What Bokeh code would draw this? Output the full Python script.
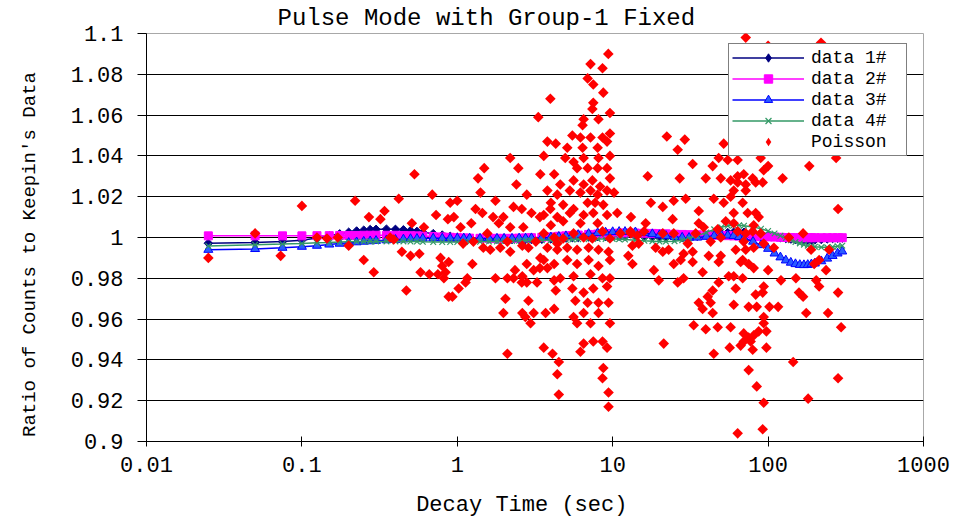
import numpy as np
from bokeh.plotting import figure
from bokeh.models import FixedTicker, CustomJSTickFormatter, Legend, LegendItem
from bokeh.embed import file_html
from bokeh.resources import INLINE

FONT = "Liberation Mono"

# Decay times (sec) at which the four calculated series are sampled
decay_time = [
    0.025, 0.05, 0.075, 0.1, 0.125, 0.15, 0.175, 0.2, 0.225, 0.25, 0.275,
    0.3, 0.35, 0.4, 0.45, 0.5, 0.55, 0.6,
    0.7, 0.8, 0.9, 1.0, 1.1, 1.2, 1.4, 1.6, 1.8, 2.0,
    2.25, 2.5, 2.75, 3.0, 3.5, 4.0, 4.5, 5.0, 5.5, 6.0,
    7, 8, 9, 10, 11, 12, 14, 16, 18, 20,
    22, 25, 28, 31, 35, 40, 45, 50, 55, 60,
    65, 70, 80, 90, 100, 110, 120, 130, 140, 150,
    160, 170, 180, 190, 200, 220, 240, 260, 280, 300,
]

data1 = [
    0.9972, 0.9976, 0.9980, 0.9987, 0.9997, 1.0008, 1.0018, 1.0026, 1.0032, 1.0036, 1.0039,
    1.0040, 1.0041, 1.0040, 1.0038, 1.0034, 1.0030, 1.0026,
    1.0019, 1.0012, 1.0006, 1.0002, 0.9999, 0.9997, 0.9994, 0.9992, 0.9991, 0.9990,
    0.9990, 0.9990, 0.9990, 0.9990, 0.9991, 0.9993, 0.9995, 0.9997, 0.9999, 1.0000,
    1.0002, 1.0004, 1.0005, 1.0006, 1.0006, 1.0006, 1.0005, 1.0003, 1.0001, 1.0000,
    0.9999, 0.9999, 1.0000, 1.0002, 1.0006, 1.0010, 1.0015, 1.0020, 1.0024, 1.0026,
    1.0027, 1.0026, 1.0022, 1.0016, 1.0010, 1.0004, 0.9999, 0.9995, 0.9992, 0.9990,
    0.9988, 0.9987, 0.9987, 0.9987, 0.9988, 0.9990, 0.9993, 0.9995, 0.9996, 0.9997,
]

data2 = [
    1.0008, 1.0008, 1.0008, 1.0008, 1.0009, 1.0009, 1.0010, 1.0010, 1.0010, 1.0011, 1.0011,
    1.0011, 1.0011, 1.0011, 1.0010, 1.0009, 1.0008, 1.0007,
    1.0005, 1.0003, 1.0001, 0.9999, 0.9998, 0.9997, 0.9996, 0.9996, 0.9996, 0.9996,
    0.9996, 0.9997, 0.9998, 0.9999, 1.0001, 1.0003, 1.0006, 1.0008, 1.0010, 1.0012,
    1.0015, 1.0017, 1.0019, 1.0020, 1.0021, 1.0022, 1.0022, 1.0021, 1.0020, 1.0019,
    1.0018, 1.0016, 1.0015, 1.0014, 1.0013, 1.0012, 1.0011, 1.0010, 1.0009, 1.0008,
    1.0007, 1.0006, 1.0005, 1.0004, 1.0003, 1.0002, 1.0001, 1.0000, 1.0000, 0.9999,
    0.9999, 0.9999, 0.9999, 0.9999, 0.9999, 0.9999, 0.9999, 0.9999, 0.9999, 0.9999,
]

data3 = [
    0.9940, 0.9944, 0.9950, 0.9955, 0.9960, 0.9966, 0.9970, 0.9974, 0.9977, 0.9980, 0.9982,
    0.9984, 0.9987, 0.9989, 0.9991, 0.9993, 0.9994, 0.9995,
    0.9996, 0.9996, 0.9996, 0.9996, 0.9996, 0.9996, 0.9995, 0.9995, 0.9995, 0.9995,
    0.9995, 0.9996, 0.9996, 0.9997, 0.9999, 1.0001, 1.0004, 1.0007, 1.0010, 1.0013,
    1.0018, 1.0022, 1.0025, 1.0027, 1.0028, 1.0028, 1.0026, 1.0022, 1.0017, 1.0012,
    1.0008, 1.0003, 1.0000, 0.9999, 1.0000, 1.0004, 1.0008, 1.0010, 1.0010, 1.0008,
    1.0003, 0.9996, 0.9980, 0.9963, 0.9945, 0.9922, 0.9903, 0.9888, 0.9877, 0.9870,
    0.9866, 0.9865, 0.9866, 0.9869, 0.9873, 0.9884, 0.9897, 0.9910, 0.9922, 0.9932,
]

data4 = [
    0.9958, 0.9965, 0.9968, 0.9971, 0.9974, 0.9976, 0.9978, 0.9979, 0.9980, 0.9980, 0.9981,
    0.9981, 0.9981, 0.9981, 0.9981, 0.9980, 0.9980, 0.9979,
    0.9978, 0.9978, 0.9978, 0.9978, 0.9978, 0.9978, 0.9979, 0.9980, 0.9981, 0.9982,
    0.9983, 0.9984, 0.9985, 0.9985, 0.9986, 0.9987, 0.9988, 0.9989, 0.9990, 0.9991,
    0.9992, 0.9993, 0.9993, 0.9993, 0.9992, 0.9990, 0.9987, 0.9984, 0.9982, 0.9980,
    0.9980, 0.9982, 0.9987, 0.9995, 1.0008, 1.0025, 1.0040, 1.0050, 1.0057, 1.0060,
    1.0060, 1.0058, 1.0052, 1.0043, 1.0032, 1.0020, 1.0008, 0.9997, 0.9987, 0.9978,
    0.9971, 0.9965, 0.9960, 0.9957, 0.9955, 0.9952, 0.9952, 0.9954, 0.9957, 0.9960,
]

# Poisson-sampled counts ratio: (decay time in sec, ratio)
poisson_points = [
    # below 1 s
    (0.025, 0.990), (0.05, 1.002), (0.073, 0.991), (0.1, 1.0155), (0.125, 1.000),
    (0.145, 0.9995), (0.17, 1.000), (0.2, 0.996), (0.22, 1.018), (0.25, 0.989),
    (0.27, 1.010), (0.29, 0.983), (0.32, 1.009), (0.34, 1.013), (0.37, 1.000),
    (0.39, 0.999), (0.42, 1.019), (0.44, 0.993), (0.47, 0.974), (0.50, 0.991),
    (0.51, 1.007), (0.53, 1.031), (0.57, 0.992), (0.58, 0.983), (0.61, 1.005),
    (0.66, 0.982), (0.69, 1.021), (0.73, 1.011), (0.75, 0.982), (0.78, 0.990),
    (0.80, 0.986), (0.82, 0.980), (0.84, 0.983), (0.87, 1.009), (0.88, 0.988),
    (0.88, 0.971), (0.90, 1.017), (0.93, 0.971), (0.95, 1.010),
    # 1 s to 4.5 s
    (1.0, 1.018), (1.02, 0.975), (1.05, 1.005), (1.09, 0.997), (1.13, 0.978),
    (1.16, 0.980), (1.23, 1.007), (1.25, 0.987), (1.27, 0.998), (1.31, 1.014),
    (1.36, 1.029), (1.41, 1.022), (1.45, 1.012), (1.47, 0.995), (1.49, 1.034),
    (1.56, 1.002), (1.63, 0.994), (1.7, 1.010), (1.76, 1.018), (1.76, 0.980),
    (1.85, 1.007), (1.89, 0.995), (1.98, 1.010), (1.98, 0.963), (2.04, 0.970),
    (2.1, 0.998), (2.1, 0.980), (2.1, 0.943), (2.19, 1.039), (2.19, 1.005),
    (2.19, 0.993), (2.3, 1.015), (2.3, 0.980), (2.35, 0.984), (2.4, 1.026),
    (2.47, 1.034), (2.6, 1.014), (2.6, 0.978), (2.62, 0.996), (2.62, 0.981),
    (2.62, 0.963), (2.66, 1.005), (2.74, 0.961), (2.8, 1.021), (2.8, 0.987),
    (2.8, 0.978), (2.87, 0.995), (2.87, 0.969), (2.96, 0.958), (3.0, 1.012),
    (3.1, 0.984), (3.1, 0.963), (3.2, 0.998), (3.26, 0.978), (3.32, 1.059),
    (3.4, 1.010), (3.42, 1.031), (3.42, 0.990), (3.4, 0.985), (3.6, 1.040),
    (3.6, 0.946), (3.7, 0.963), (3.8, 1.047), (3.8, 0.995), (3.8, 0.985),
    (3.97, 1.068), (3.97, 1.014), (4.1, 0.943), (4.2, 1.031), (4.2, 0.979),
    (4.2, 0.965), (4.3, 1.046), (4.3, 0.974), (4.4, 1.010), (4.4, 0.997),
    (4.4, 0.933), (4.5, 0.939), (4.5, 0.923),
    # 3.5 s to 15 s
    (9.37, 1.090), (7.2, 1.085), (8.6, 1.083), (6.9, 1.078), (7.5, 1.075),
    (8.7, 1.071), (7.5, 1.066), (7.4, 1.063), (9.6, 1.061), (6.5, 1.058),
    (8.1, 1.058), (6.4, 1.055), (5.5, 1.050), (6.2, 1.049), (7.2, 1.049),
    (8.6, 1.049), (9.6, 1.051), (5.1, 1.044), (6.4, 1.044), (8.0, 1.044),
    (9.2, 1.047), (4.95, 1.039), (5.6, 1.037), (6.5, 1.039), (8.1, 1.039),
    (9.6, 1.040), (5.9, 1.034), (6.9, 1.034), (8.0, 1.034), (9.2, 1.034),
    (4.6, 1.026), (5.6, 1.028), (6.5, 1.026), (7.4, 1.028), (8.3, 1.025),
    (9.6, 1.029), (3.8, 1.023), (4.4, 1.021), (5.3, 1.023), (6.2, 1.022),
    (7.2, 1.023), (8.0, 1.021), (9.2, 1.023), (10.2, 1.022), (4.0, 1.017),
    (4.8, 1.016), (5.6, 1.014), (6.9, 1.017), (7.7, 1.017), (8.7, 1.016),
    (3.6, 1.011), (5.3, 1.012), (6.5, 1.011), (7.5, 1.012), (9.2, 1.011),
    (10.7, 1.012), (4.0, 1.006), (4.8, 1.008), (6.2, 1.007), (8.0, 1.007),
    (3.6, 1.002), (4.2, 1.000), (4.8, 0.9995), (5.6, 1.002), (6.5, 1.000),
    (7.4, 0.9995), (8.6, 1.003), (9.6, 0.9995), (11.2, 1.002), (13.0, 1.003),
    (14.4, 1.001), (4.4, 0.994), (5.1, 0.995), (5.9, 0.994), (7.0, 0.995),
    (8.1, 0.994), (9.4, 0.993), (12.6, 0.991), (3.6, 0.989), (4.2, 0.987),
    (5.1, 0.989), (5.9, 0.987), (7.0, 0.989), (8.1, 0.986), (9.6, 0.989),
    (4.6, 0.980), (5.6, 0.981), (7.2, 0.982), (8.6, 0.980), (9.6, 0.980),
    (5.5, 0.975), (6.5, 0.973), (7.5, 0.975), (9.2, 0.976), (5.75, 0.969),
    (6.9, 0.968), (8.1, 0.968), (9.4, 0.968), (5.6, 0.961), (6.5, 0.963),
    (8.1, 0.963), (5.9, 0.958), (7.2, 0.958), (9.6, 0.958), (6.5, 0.948),
    (7.5, 0.949), (8.6, 0.949), (6.2, 0.944), (9.2, 0.946), (8.7, 0.936),
    (8.6, 0.931), (9.4, 0.924), (9.4, 0.917),
    # 13 s to 70 s
    (22.3, 1.0495), (29.1, 1.048), (26.2, 1.043), (16.8, 1.030), (32.7, 1.036),
    (27.0, 1.029), (39.7, 1.029), (44.0, 1.035), (48.1, 1.039), (51.8, 1.046),
    (55.0, 1.038), (49.6, 1.029), (57.4, 1.028), (63.7, 1.030), (17.6, 1.017),
    (21.0, 1.015), (24.7, 1.018), (29.5, 1.019), (35.8, 1.013), (44.7, 1.019),
    (51.8, 1.017), (16.3, 1.007), (13.1, 1.010), (24.3, 1.009), (35.8, 1.007),
    (38.5, 1.005), (47.4, 1.004), (53.4, 1.008), (60.1, 1.007), (13.1, 1.002),
    (15.9, 1.003), (21.0, 1.002), (24.7, 1.002), (34.2, 1.002), (42.7, 0.998),
    (49.6, 1.000), (13.4, 0.996), (14.7, 0.997), (18.9, 0.995), (21.0, 0.993),
    (22.9, 0.994), (30.4, 0.997), (32.7, 0.993), (28.6, 0.992), (41.5, 0.991),
    (49.6, 0.991), (48.1, 0.988), (66.6, 0.988), (24.7, 0.987), (27.4, 0.989),
    (32.7, 0.988), (13.4, 0.987), (18.4, 0.984), (37.9, 0.983), (19.8, 0.979),
    (26.2, 0.978), (28.6, 0.980), (48.1, 0.978), (55.8, 0.981), (44.0, 0.974),
    (40.9, 0.971), (35.8, 0.968), (37.9, 0.965), (44.0, 0.963), (42.7, 0.968),
    (33.2, 0.957), (39.7, 0.955), (47.4, 0.956), (21.3, 0.948), (44.7, 0.943),
    (56.6, 0.946),
    # 55 s to 300 s
    (71.8, 1.098), (100, 1.094), (219, 1.0955), (63.7, 1.038), (89.6, 1.039),
    (100, 1.035), (93.7, 1.033), (184, 1.035), (124, 1.029), (274, 1.039),
    (69.7, 1.031), (79.6, 1.029), (63.7, 1.027), (71.8, 1.026), (83.2, 1.027),
    (92.3, 1.027), (60.1, 1.023), (71.8, 1.023), (57.4, 1.020), (68.6, 1.017),
    (60.1, 1.012), (73.9, 1.012), (83.2, 1.012), (87.0, 1.010), (80.8, 1.006),
    (282, 1.014), (63.7, 1.003), (71.8, 1.002), (79.6, 1.003), (89.6, 1.002),
    (168, 1.002), (136, 1.000), (109, 0.995), (69.7, 0.998), (61.9, 0.994),
    (71.8, 0.994), (80.8, 0.995), (93.7, 0.997), (189, 0.994), (247, 0.994),
    (198, 0.987), (213, 0.989), (236, 0.984), (68.6, 0.989), (75.0, 0.987),
    (80.8, 0.985), (68.6, 0.980), (60.1, 0.981), (100, 0.984), (121, 0.979),
    (151, 0.980), (204, 0.979), (213, 0.976), (282, 0.973), (61.9, 0.975),
    (83.2, 0.972), (93.7, 0.976), (92.3, 0.973), (158, 0.973), (168, 0.971),
    (75.0, 0.966), (84.5, 0.966), (102, 0.966), (116, 0.966), (60.1, 0.967),
    (176, 0.963), (243, 0.963), (93.7, 0.961), (93.7, 0.958), (97.5, 0.954),
    (295, 0.956), (57.4, 0.956), (69.7, 0.953), (75.0, 0.951), (80.8, 0.952),
    (87.0, 0.954), (69.7, 0.949), (77.2, 0.949), (66.6, 0.947), (79.6, 0.945),
    (97.5, 0.946), (145, 0.939), (75.0, 0.935), (282, 0.931), (84.5, 0.927),
    (181, 0.921), (93.7, 0.919), (63.7, 0.904), (92.3, 0.906),
]
poisson_time = [pt[0] for pt in poisson_points]
poisson_ratio = [pt[1] for pt in poisson_points]

x_ticks = [0.01, 0.1, 1, 10, 100, 1000]
y_ticks = [0.9, 0.92, 0.94, 0.96, 0.98, 1.0, 1.02, 1.04, 1.06, 1.08, 1.1]
grid_ticks = [0.92, 0.94, 0.96, 0.98, 1.0, 1.02, 1.04, 1.06, 1.08]

NBSP = "\u00a0"

p = figure(
    width=954, height=520,
    x_axis_type="log", x_range=(0.01, 1000), y_range=(0.9, 1.1),
    output_backend="svg", toolbar_location=None,
    min_border_left=146, min_border_right=31,
    min_border_top=33, min_border_bottom=79,
    title="Pulse Mode with Group-1 Fixed",
)
p.background_fill_color = "white"
p.border_fill_color = "white"
p.outline_line_color = "#a8a8a8"
p.outline_line_width = 1

p.title.text_font = FONT
p.title.text_font_size = "24px"
p.title.text_font_style = "normal"
p.title.text_color = "black"
p.title.align = "left"
p.title.offset = 131
p.title.standoff = 4

# horizontal grid only
p.xgrid.visible = False
p.ygrid.ticker = FixedTicker(ticks=grid_ticks)
p.ygrid.grid_line_color = "black"
p.ygrid.grid_line_width = 1

# axes
p.xaxis.ticker = FixedTicker(ticks=x_ticks, minor_ticks=[])
p.xaxis.formatter = CustomJSTickFormatter(code="return String(tick);")
p.yaxis.ticker = FixedTicker(ticks=y_ticks, minor_ticks=[])
p.yaxis.formatter = CustomJSTickFormatter(
    code="return String(parseFloat(tick.toFixed(2)));")

for ax in (p.xaxis[0], p.yaxis[0]):
    ax.axis_line_color = "black"
    ax.axis_line_width = 1
    ax.major_tick_line_color = "black"
    ax.major_label_text_font = FONT
    ax.major_label_text_font_size = "22px"
    ax.major_label_text_color = "black"
    ax.axis_label_text_font = FONT
    ax.axis_label_text_font_style = "normal"
    ax.axis_label_text_color = "black"

p.xaxis.major_tick_in = 5
p.xaxis.major_tick_out = 5
p.xaxis.major_label_standoff = 10
p.xaxis.axis_label = "Decay Time (sec)" + NBSP * 2
p.xaxis.axis_label_text_font_size = "22px"
p.xaxis.axis_label_standoff = 18

p.yaxis.major_tick_in = 0
p.yaxis.major_tick_out = 9
p.yaxis.major_label_standoff = 14
p.yaxis.axis_label = "Ratio of Counts to Keepin's Data" + NBSP * 3
p.yaxis.axis_label_text_font_size = "19px"
p.yaxis.axis_label_standoff = 27

# calculated series: line + markers
navy, magenta, blue, green = "#000080", "#ff00ff", "#0000ff", "#339966"

l1 = p.line(decay_time, data1, line_color=navy, line_width=1.5)
s1 = p.scatter(decay_time, data1, marker="square", angle=np.pi / 4, size=6,
               fill_color=navy, line_color=navy)

l2 = p.line(decay_time, data2, line_color=magenta, line_width=1.5)
s2 = p.scatter(decay_time, data2, marker="square", size=8,
               fill_color=magenta, line_color=magenta)

l3 = p.line(decay_time, data3, line_color=blue, line_width=1.5)
s3 = p.scatter(decay_time, data3, marker="triangle", size=9,
               fill_color="#2a5cff", line_color=blue)

l4 = p.line(decay_time, data4, line_color=green, line_width=1.5)
s4 = p.scatter(decay_time, data4, marker="x", size=8,
               line_color=green, line_width=1.2)

s5 = p.scatter(poisson_time, poisson_ratio, marker="square", angle=np.pi / 4,
               size=7.5, fill_color="#ff0000", line_color=None)

# diamond swatches used only by the legend (a single NaN point draws nothing)
k1 = p.scatter([np.nan], [np.nan], marker="diamond", size=11,
               fill_color=navy, line_color=navy)
k5 = p.scatter([np.nan], [np.nan], marker="diamond", size=12,
               fill_color="#ff0000", line_color=None)

legend = Legend(
    items=[
        LegendItem(label="data 1#", renderers=[l1, k1]),
        LegendItem(label="data 2#", renderers=[l2, s2]),
        LegendItem(label="data 3#", renderers=[l3, s3]),
        LegendItem(label="data 4#", renderers=[l4, s4]),
        LegendItem(label="Poisson", renderers=[k5]),
    ],
    location=(582, 285),
    margin=0, padding=3, spacing=0,
    glyph_width=72, glyph_height=21, label_height=21, label_standoff=7,
    label_width=92,
    label_text_font=FONT, label_text_font_size="18px", label_text_color="black",
    border_line_color="black", border_line_width=1,
    background_fill_color="white", background_fill_alpha=1.0,
)
p.add_layout(legend)

open("out.html", "w").write(file_html(p, INLINE))
